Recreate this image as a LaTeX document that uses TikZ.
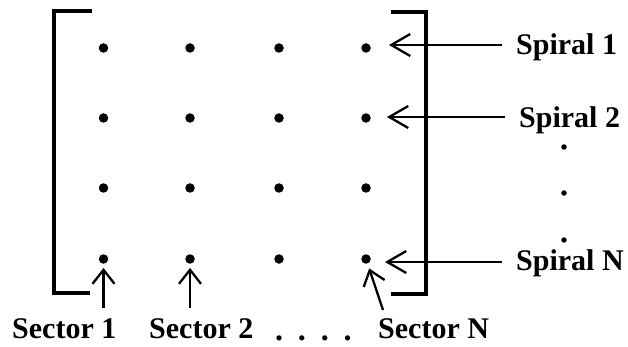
\documentclass[tikz,border=0pt]{standalone}
\usepackage{fontspec}
\setmainfont{Liberation Serif}
\usetikzlibrary{arrows.meta}
\tikzset{
  dotnode/.style={circle,fill=black,inner sep=0pt,minimum size=9.5pt},
  smalldot/.style={circle,fill=black,inner sep=0pt,minimum size=5.5pt},
  lbl/.style={anchor=base west,inner sep=0pt,font=\fontsize{30}{30}\selectfont\bfseries},
  bracket/.style={line width=4.5pt},
  sparrow/.style={line width=2.3pt,-{Straight Barb[length=19pt,width=22pt,line width=2.3pt]}},
  secarrow/.style={line width=2.3pt,-{Straight Barb[length=14pt,width=22pt,line width=2.3pt]}}
}
\begin{document}
\begin{tikzpicture}[x=1pt,y=-1pt]
\useasboundingbox (0,0) rectangle (628,347);
% brackets
\draw[bracket] (92,11) -- (54,11) -- (54,293) -- (90,293);
\draw[bracket] (391,12) -- (426,12) -- (426,294) -- (391,294);
% dot grid
\foreach \r/\y in {1/48,2/118,3/188,4/259}{
  \foreach \c/\x in {1/103.5,2/190,3/279,4/366}{
    \node[dotnode] (d\r\c) at (\x,\y) {};
  }
}
% spiral labels
\node[lbl] (s1) at (516,55) {Spiral 1};
\node[lbl] (s2) at (519,128) {Spiral 2};
\node[lbl] (sn) at (516,270) {Spiral N};
\node[smalldot] (v1) at (564,147) {};
\node[smalldot] (v2) at (564,193) {};
\node[smalldot] (v3) at (564,240) {};
% sector labels
\node[lbl] (c1) at (12,338) {Sector 1};
\node[lbl] (c2) at (149,338) {Sector 2};
\node[lbl,font=\fontsize{32}{32}\selectfont\bfseries] (cd) at (275,340) {.\hspace{14.8pt}.\hspace{14.8pt}.\hspace{14.8pt}.};
\node[lbl] (cn) at (378,338) {Sector N};
% arrow tails
\coordinate (t1) at (502,45);
\coordinate (t2) at (505,117);
\coordinate (tn) at (502,262);
\coordinate (u1) at (103.5,308);
\coordinate (u2) at (190,308);
\coordinate (un) at (383,310);
% spiral arrows
\draw[sparrow,shorten >=18pt] (t1) -- (t1 -| d14.east);
\draw[sparrow,shorten >=16pt] (t2) -- (t2 -| d24.east);
\draw[sparrow,shorten >=14pt] (tn) -- (tn -| d44.east);
% sector arrows
\draw[secarrow,shorten >=4pt] (u1) -- (d41);
\draw[secarrow,shorten >=4pt] (u2) -- (d42);
\draw[secarrow,shorten >=5pt] (un) -- (d44);
\end{tikzpicture}
\end{document}
